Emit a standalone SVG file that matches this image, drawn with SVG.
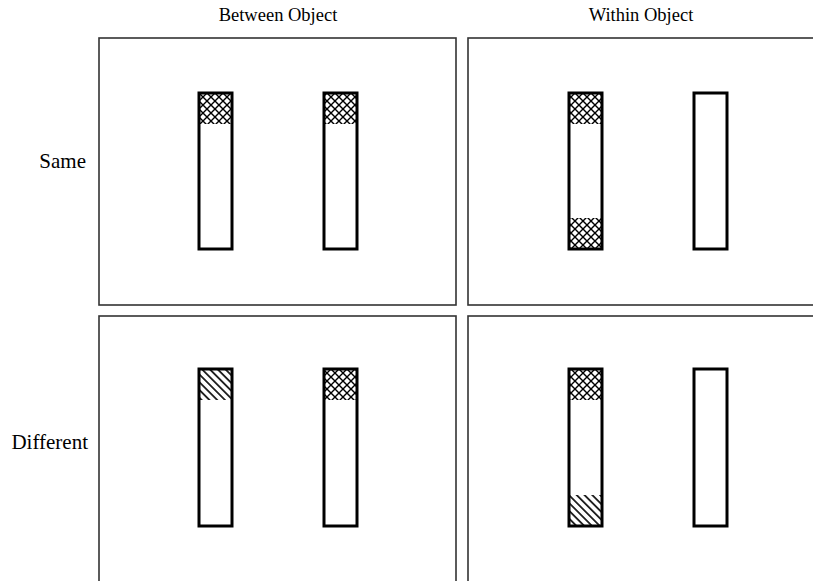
<svg xmlns="http://www.w3.org/2000/svg" width="813" height="581" viewBox="0 0 813 581">
<defs>
<pattern id="cross" patternUnits="userSpaceOnUse" width="8" height="8" x="199" y="93">
<path d="M0,0 L8,8 M8,0 L0,8" stroke="#000" stroke-width="1.4" fill="none"/>
</pattern>
<pattern id="diag" patternUnits="userSpaceOnUse" width="5.5" height="5.5" patternTransform="rotate(45)">
<line x1="0" y1="2.75" x2="5.5" y2="2.75" stroke="#000" stroke-width="1.6"/>
</pattern>
<style>
.panel{fill:#fff;stroke:#333;stroke-width:1.6}
.bar{fill:none;stroke:#000;stroke-width:3}
.lbl{font-family:"Liberation Serif","Times New Roman",serif;font-size:18.5px;fill:#000}
.row{font-size:21px}
</style>
</defs>
<rect width="813" height="581" fill="#fff"/>
<text class="lbl" x="278" y="21" text-anchor="middle">Between Object</text>
<text class="lbl" x="641" y="21" text-anchor="middle">Within Object</text>
<text class="lbl row" x="86" y="168" text-anchor="end">Same</text>
<text class="lbl row" x="88" y="449" text-anchor="end">Different</text>

<g id="same-between">
<rect class="panel" x="99" y="38" width="357" height="267"/>
<rect x="199" y="93" width="33" height="31" fill="url(#cross)"/>
<rect class="bar" x="199" y="93" width="33" height="156"/>
<rect x="324" y="93" width="33" height="31" fill="url(#cross)"/>
<rect class="bar" x="324" y="93" width="33" height="156"/>
</g>
<g id="same-within">
<rect class="panel" x="468" y="38" width="360" height="267"/>
<rect x="569" y="93" width="33" height="31" fill="url(#cross)"/>
<rect x="569" y="218" width="33" height="31" fill="url(#cross)"/>
<rect class="bar" x="569" y="93" width="33" height="156"/>
<rect class="bar" x="694" y="93" width="33" height="156"/>
</g>
<g id="different-between">
<rect class="panel" x="99" y="316" width="357" height="280"/>
<rect x="199" y="369" width="33" height="31" fill="url(#diag)"/>
<rect class="bar" x="199" y="369" width="33" height="157"/>
<rect x="324" y="369" width="33" height="31" fill="url(#cross)"/>
<rect class="bar" x="324" y="369" width="33" height="157"/>
</g>
<g id="different-within">
<rect class="panel" x="468" y="316" width="360" height="280"/>
<rect x="569" y="369" width="33" height="31" fill="url(#cross)"/>
<rect x="569" y="495" width="33" height="31" fill="url(#diag)"/>
<rect class="bar" x="569" y="369" width="33" height="157"/>
<rect class="bar" x="694" y="369" width="33" height="157"/>
</g>
<g id="connectors"/>
</svg>
